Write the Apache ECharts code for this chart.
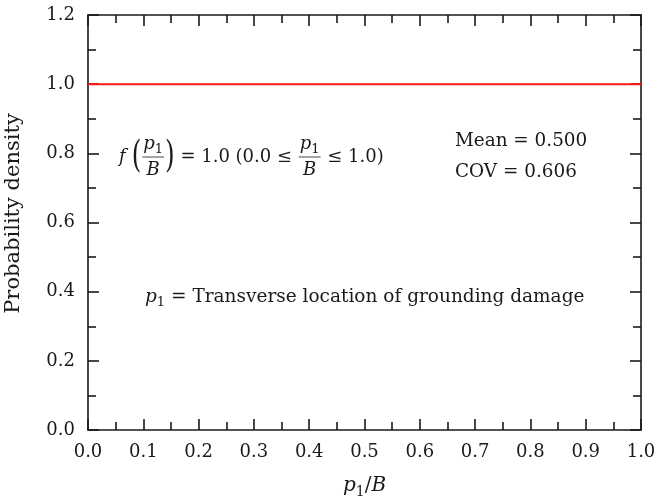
<!DOCTYPE html>
<html>
<head>
<meta charset="utf-8">
<script src="https://cdn.jsdelivr.net/npm/echarts@6/dist/echarts.min.js"></script>
<style>
  html, body { margin: 0; padding: 0; background: #fff; }
  #chart { width: 670px; height: 500px; }
</style>
</head>
<body>
<div id="chart"></div>
<script>
// Uniform probability density of p1/B over [0, 1]
const xValues = [0.0, 1.0];
const densityValues = [1.0, 1.0];
const xRange = [0.0, 1.0];
const yRange = [0.0, 1.2];
const xTickStep = 0.1;
const yTickStep = 0.2;
const meanValue = '0.500';
const covValue = '0.606';

const SERIF = 'DejaVu Serif';
const INK = '#1a1a1a';

const chart = echarts.init(document.getElementById('chart'), null, { renderer: 'canvas' });

// text measuring for the hand-set math annotations
const measureCtx = document.createElement('canvas').getContext('2d');
function fontStr(size, italic) {
  return (italic ? 'italic ' : '') + size + 'px "' + SERIF + '"';
}
function textWidth(t, size, italic) {
  measureCtx.font = fontStr(size, italic);
  return measureCtx.measureText(t).width;
}
function txt(t, x, y, size, italic, align) {
  return {
    type: 'text', x: x, y: y, silent: true,
    style: {
      text: t, font: fontStr(size, italic), fill: INK,
      textAlign: align || 'left', textVerticalAlign: 'middle'
    }
  };
}

// Lays out a row of math pieces from x0 along a centre line y.
// piece kinds: plain text, italic symbol with optional subscript, fraction, big paren
function mathRow(pieces, x0, y, size) {
  const els = [];
  let x = x0;
  pieces.forEach(function (p) {
    if (p.kind === 'text') {
      els.push(txt(p.t, x, y, size, false));
      x += textWidth(p.t, size, false);
    } else if (p.kind === 'sym') {
      els.push(txt(p.t, x, y, size, true));
      x += textWidth(p.t, size, true);
      if (p.sub) {
        const ss = Math.round(size * 0.7);
        els.push(txt(p.sub, x, y + size * 0.3, ss, false));
        x += textWidth(p.sub, ss, false);
      }
    } else if (p.kind === 'gap') {
      x += p.w;
    } else if (p.kind === 'paren') {
      const ps = Math.round(size * 2.1);
      els.push({
        type: 'text', x: x, y: y, silent: true, scaleX: 0.65,
        style: { text: p.t, font: ps + 'px "' + SERIF + '"', fill: INK,
                 textAlign: 'left', textVerticalAlign: 'middle' }
      });
      x += textWidth(p.t, ps, false) * 0.65;
    } else if (p.kind === 'frac') {
      const ss = Math.round(size * 0.7);
      const numW = textWidth(p.num, size, true) + textWidth(p.numSub, ss, false);
      const denW = textWidth(p.den, size, true);
      const w = Math.max(numW, denW) + 4;
      const cx = x + w / 2;
      const nx = cx - numW / 2;
      els.push(txt(p.num, nx, y - size * 0.72, size, true));
      els.push(txt(p.numSub, nx + textWidth(p.num, size, true), y - size * 0.72 + size * 0.3, ss, false));
      els.push(txt(p.den, cx, y + size * 0.72, size, true, 'center'));
      els.push({
        type: 'line', silent: true,
        shape: { x1: x + 1, y1: y, x2: x + w - 1, y2: y },
        style: { stroke: INK, lineWidth: 0.8 }
      });
      x += w;
    }
  });
  return els;
}

const axisLineStyle = { color: INK, width: 1.6 };

function valueAxis(pos, range, step, withLabels) {
  return {
    type: 'value',
    position: pos,
    min: range[0], max: range[1], interval: step,
    axisLine: { show: true, onZero: false, lineStyle: axisLineStyle },
    axisTick: { show: true, inside: true, length: 11, lineStyle: axisLineStyle },
    minorTick: { show: true, splitNumber: 2, length: 8, lineStyle: axisLineStyle },
    splitLine: { show: false },
    minorSplitLine: { show: false },
    axisLabel: {
      show: withLabels,
      margin: 13,
      color: INK,
      fontFamily: SERIF,
      fontSize: 18,
      formatter: function (v) { return v.toFixed(1); }
    }
  };
}

const yLeft = valueAxis('left', yRange, yTickStep, true);
yLeft.name = 'Probability density';
yLeft.nameLocation = 'middle';
yLeft.nameGap = 64;
yLeft.nameRotate = 90;
yLeft.nameTextStyle = { fontFamily: SERIF, fontSize: 21, color: INK, padding: [0, 0, 0, 18] };

const option = {
  animation: false,
  backgroundColor: '#ffffff',
  grid: { left: 88, right: 29, top: 15, bottom: 70, containLabel: false, outerBoundsMode: 'none' },
  xAxis: [
    valueAxis('bottom', xRange, xTickStep, true),
    valueAxis('top', xRange, xTickStep, false)
  ],
  yAxis: [
    yLeft,
    valueAxis('right', yRange, yTickStep, false)
  ],
  series: [{
    type: 'line',
    data: xValues.map(function (x, i) { return [x, densityValues[i]]; }),
    showSymbol: false,
    lineStyle: { color: '#ff1a1a', width: 2 },
    z: 3
  }]
};
chart.setOption(option);

// annotations: density formula, statistics, variable definition, x-axis title
const S = 18.4;
const graphics = []
  .concat(mathRow([
    { kind: 'sym', t: 'f' },
    { kind: 'gap', w: 6 },
    { kind: 'paren', t: '(' },
    { kind: 'frac', num: 'p', numSub: '1', den: 'B' },
    { kind: 'paren', t: ')' },
    { kind: 'text', t: ' = 1.0 (0.0 \u2264 ' },
    { kind: 'frac', num: 'p', numSub: '1', den: 'B' },
    { kind: 'text', t: ' \u2264 1.0)' }
  ], 119, 157, 18))
  .concat([
    txt('Mean = ' + meanValue, 455, 141, S, false),
    txt('COV = ' + covValue, 455, 172, S, false)
  ])
  .concat(mathRow([
    { kind: 'sym', t: 'p', sub: '1' },
    { kind: 'text', t: ' = Transverse location of grounding damage' }
  ], 145, 297, 18.5));

// x-axis title p1/B centred under the plot
const TS = 20;
const ss = Math.round(TS * 0.7);
const xTitleW = textWidth('p', TS, true) + textWidth('1', ss, false) +
  textWidth('/', TS, false) + textWidth('B', TS, true);
const plotMid = (chart.convertToPixel({ xAxisIndex: 0 }, xRange[0]) +
                 chart.convertToPixel({ xAxisIndex: 0 }, xRange[1])) / 2;
const xTitleEls = mathRow([
  { kind: 'sym', t: 'p', sub: '1' },
  { kind: 'text', t: '/' },
  { kind: 'sym', t: 'B' }
], plotMid - xTitleW / 2, 486, TS);

chart.setOption({ graphic: { elements: graphics.concat(xTitleEls) } });
</script>
</body>
</html>
